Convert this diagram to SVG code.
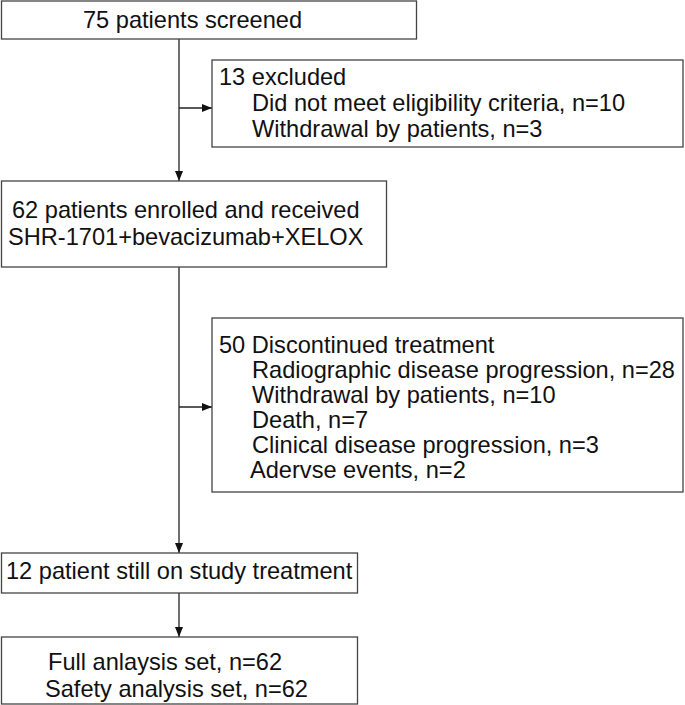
<svg xmlns="http://www.w3.org/2000/svg" width="685" height="705" viewBox="0 0 685 705">
<defs>
<marker id="ah" markerWidth="10" markerHeight="10" refX="10" refY="5" orient="auto" markerUnits="userSpaceOnUse">
<path d="M0,1 L10,5 L0,9 Z" fill="#111"/>
</marker>
<style>
.box{fill:#fff;stroke:#444;stroke-width:1.3}
.t{font-family:"Liberation Sans",Arial,sans-serif;font-size:23.6px;fill:#111}
.c{stroke:#222;stroke-width:1.3;fill:none}
</style>
</defs>
<rect width="685" height="705" fill="#fff"/>
<g id="connectors">
<line class="c" x1="179" y1="39" x2="179" y2="181" marker-end="url(#ah)"/>
<line class="c" x1="179" y1="108" x2="212" y2="108" marker-end="url(#ah)"/>
<line class="c" x1="179" y1="267" x2="179" y2="553" marker-end="url(#ah)"/>
<line class="c" x1="179" y1="407" x2="212" y2="407" marker-end="url(#ah)"/>
<line class="c" x1="179" y1="593" x2="179" y2="637" marker-end="url(#ah)"/>
</g>
<g id="screened">
<rect class="box" x="1.5" y="1" width="415" height="38"/>
<text class="t" x="83" y="28">75 patients screened</text>
</g>
<g id="excluded">
<rect class="box" x="212" y="60" width="471" height="87"/>
<text class="t" x="219" y="85">13 excluded</text>
<text class="t" x="252" y="111">Did not meet eligibility criteria, n=10</text>
<text class="t" x="252" y="137">Withdrawal by patients, n=3</text>
</g>
<g id="enrolled">
<rect class="box" x="1.5" y="181" width="385" height="86"/>
<text class="t" x="12" y="218">62 patients enrolled and received</text>
<text class="t" x="8" y="245">SHR-1701+bevacizumab+XELOX</text>
</g>
<g id="discontinued">
<rect class="box" x="212" y="318" width="471" height="174"/>
<text class="t" x="219" y="353">50 Discontinued treatment</text>
<text class="t" x="252" y="378">Radiographic disease progression, n=28</text>
<text class="t" x="252" y="403">Withdrawal by patients, n=10</text>
<text class="t" x="252" y="428">Death, n=7</text>
<text class="t" x="252" y="453">Clinical disease progression, n=3</text>
<text class="t" x="250" y="478">Adervse events, n=2</text>
</g>
<g id="still">
<rect class="box" x="1.5" y="553" width="356" height="40"/>
<text class="t" x="6" y="579">12 patient still on study treatment</text>
</g>
<g id="analysis">
<rect class="box" x="1.5" y="637" width="356" height="67"/>
<text class="t" x="48" y="670">Full anlaysis set, n=62</text>
<text class="t" x="45" y="697">Safety analysis set, n=62</text>
</g>
</svg>
